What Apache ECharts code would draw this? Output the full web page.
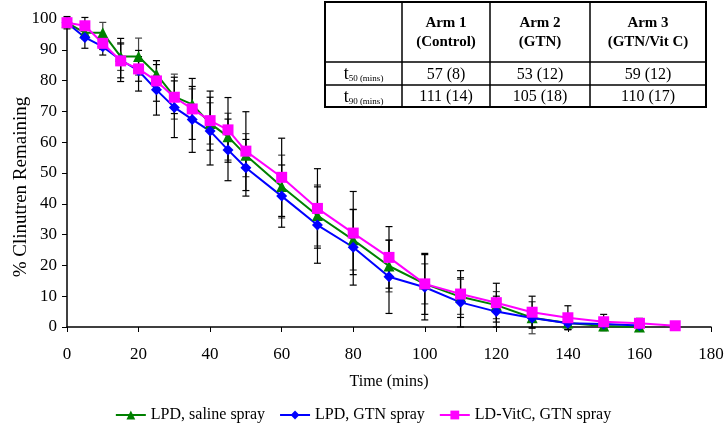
<!DOCTYPE html>
<html>
<head>
<meta charset="utf-8">
<script src="https://cdn.jsdelivr.net/npm/echarts@6/dist/echarts.min.js"></script>
<style>html,body{margin:0;padding:0;background:#fff}#c{width:726px;height:423px}</style>
</head>
<body>
<div id="c"></div>
<script>
const times = [0,5,10,15,20,25,30,35,40,45,50,60,70,80,90,100,110,120,130,140,150,160,170];
const salineVals = [98.8,95.5,95.5,87.8,87.8,82.1,74.8,72.3,66.1,61.8,55.8,45.6,36.2,28.3,19.8,14.0,9.8,7.1,3.0,1.3,0.3,0];
const salineErr  = [1,2,3.4,4.5,6,4.4,7.3,5,6.7,7.6,7,10.2,9.9,9.8,8.4,6.5,5.7,4.4,5.2,2,1.5,1];
const gtnVals = [98.8,94.0,91.0,86.7,83.2,77.0,71.3,67.4,63.6,57.5,51.7,42.5,33.1,25.9,16.3,12.9,8.0,5.0,2.9,1.2,1.0,0.5];
const gtnErr  = [2,3.5,2.7,7,6.6,8.2,9.8,10.7,11,10,9.2,10.1,12.4,12.3,11.9,10.6,8,5,3,2,1.5,1];
const vitcVals = [98.8,97.8,92.1,86.4,83.8,79.9,74.6,70.8,67.0,64.0,57.1,48.6,38.5,30.5,22.6,14.0,10.7,7.9,4.8,3.0,1.7,1.2,0.4];
const vitcErr  = [1.5,2.7,2,5.5,4,6.6,5.3,9.9,9.6,10.5,12.8,12.7,12.9,13.5,10,9.9,7.6,6.3,5.2,3.9,2.4,1.6,0];
const seriesNames = ['LPD, saline spray','LPD, GTN spray','LD-VitC, GTN spray'];
const xTicks = [0,20,40,60,80,100,120,140,160,180];
const yTicks = [0,10,20,30,40,50,60,70,80,90,100];
const tableCols = ['Arm 1\n(Control)','Arm 2\n(GTN)','Arm 3\n(GTN/Vit C)'];
const tableRows = ['50','90'];
const tableCells = [['57 (8)','53 (12)','59 (12)'],['111 (14)','105 (18)','110 (17)']];

const FONT = "'Liberation Serif','Times New Roman',serif";
function pairs(vals){ return vals.map((v,i)=>[times[i],v]); }
function triples(vals,err){ return vals.map((v,i)=>[times[i],v,err[i]]); }
function errSeries(vals,err,color){
  return {
    type:'custom', z:1, silent:true, clip:false,
    encode:{x:0,y:1},
    data:triples(vals,err),
    renderItem:function(params,api){
      const x=api.value(0),y=api.value(1),e=api.value(2);
      if(!e) return null;
      const hi=api.coord([x,y+e]), lo=api.coord([x,y-e]);
      const w=3.5, st={stroke:color,lineWidth:1.2};
      return {type:'group',children:[
        {type:'line',shape:{x1:hi[0],y1:hi[1],x2:lo[0],y2:lo[1]},style:st},
        {type:'line',shape:{x1:hi[0]-w,y1:hi[1],x2:hi[0]+w,y2:hi[1]},style:st},
        {type:'line',shape:{x1:lo[0]-w,y1:lo[1],x2:lo[0]+w,y2:lo[1]},style:st}
      ]};
    }
  };
}
function lineSeries(name,vals,color,symbol,size){
  return {name:name,type:'line',z:3,data:pairs(vals),symbol:symbol,symbolSize:size,
    lineStyle:{color:color,width:2},itemStyle:{color:color},animation:false};
}

// table graphic
const colEdges=[325,402,490,590,706], rowEdges=[2,62,85,107];
const g=[];
g.push({type:'rect',shape:{x:colEdges[0],y:rowEdges[0],width:colEdges[4]-colEdges[0],height:rowEdges[3]-rowEdges[0]},style:{fill:'#fff',stroke:'#000',lineWidth:2},z:100});
for(let i=1;i<4;i++) g.push({type:'line',shape:{x1:colEdges[i],y1:rowEdges[0],x2:colEdges[i],y2:rowEdges[3]},style:{stroke:'#000',lineWidth:1.5},z:101});
for(let j=1;j<3;j++) g.push({type:'line',shape:{x1:colEdges[0],y1:rowEdges[j],x2:colEdges[4],y2:rowEdges[j]},style:{stroke:'#000',lineWidth:1.5},z:101});
tableCols.forEach((t,i)=>{
  g.push({type:'text',z:102,x:(colEdges[i+1]+colEdges[i+2])/2,y:(rowEdges[0]+rowEdges[1])/2+1,
    style:{text:t,font:'bold 15px '+FONT,fill:'#000',align:'center',verticalAlign:'middle',lineHeight:19}});
});
tableRows.forEach((r,j)=>{
  g.push({type:'text',z:102,x:(colEdges[0]+colEdges[1])/2,y:(rowEdges[j+1]+rowEdges[j+2])/2+1,
    style:{text:'{t|t}{s|'+r+' (mins)}',align:'center',verticalAlign:'middle',fill:'#000',
      rich:{t:{fontFamily:FONT,fontSize:18,fill:'#000',verticalAlign:'bottom'},s:{fontFamily:FONT,fontSize:9,fill:'#000',verticalAlign:'bottom'}}}});
  tableCells[j].forEach((c,i)=>{
    g.push({type:'text',z:102,x:(colEdges[i+1]+colEdges[i+2])/2,y:(rowEdges[j+1]+rowEdges[j+2])/2+1,
      style:{text:c,font:'16px '+FONT,fill:'#000',align:'center',verticalAlign:'middle'}});
  });
});

const chart=echarts.init(document.getElementById('c'),null,{renderer:'canvas'});
chart.setOption({
  animation:false,
  backgroundColor:'#fff',
  textStyle:{fontFamily:FONT},
  grid:{left:67,right:15,top:19,bottom:96,containLabel:false,outerBoundsMode:'none'},
  legend:{top:402,left:'center',itemWidth:30,itemHeight:11,itemGap:14,
    data:seriesNames,textStyle:{fontFamily:FONT,fontSize:16,color:'#000'}},
  xAxis:{type:'value',min:xTicks[0],max:xTicks[xTicks.length-1],interval:20,
    name:'Time (mins)',nameLocation:'middle',nameGap:47,nameMoveOverlap:false,
    nameTextStyle:{fontFamily:FONT,fontSize:16,color:'#000'},
    axisLine:{lineStyle:{color:'#000',width:1.5}},axisTick:{show:true,length:5,lineStyle:{color:'#000'}},
    axisLabel:{color:'#000',fontFamily:FONT,fontSize:17,margin:19},splitLine:{show:false}},
  yAxis:{type:'value',min:yTicks[0],max:yTicks[yTicks.length-1],interval:10,
    name:'% Clinutren Remaining',nameLocation:'middle',nameGap:36,nameMoveOverlap:false,
    nameTextStyle:{fontFamily:FONT,fontSize:19,color:'#000',padding:[0,28,0,0]},
    axisLine:{show:true,lineStyle:{color:'#000',width:1.5}},axisTick:{show:true,length:5,lineStyle:{color:'#000'}},
    axisLabel:{color:'#000',fontFamily:FONT,fontSize:17,margin:10},splitLine:{show:false}},
  graphic:g,
  series:[
    errSeries(salineVals,salineErr,'#444'),
    errSeries(gtnVals,gtnErr,'#000'),
    errSeries(vitcVals,vitcErr,'#000'),
    lineSeries(seriesNames[0],salineVals,'#008000','triangle',11),
    lineSeries(seriesNames[1],gtnVals,'#0000ff','diamond',11),
    lineSeries(seriesNames[2],vitcVals,'#ff00ff','rect',11)
  ]
});
</script>
</body>
</html>
